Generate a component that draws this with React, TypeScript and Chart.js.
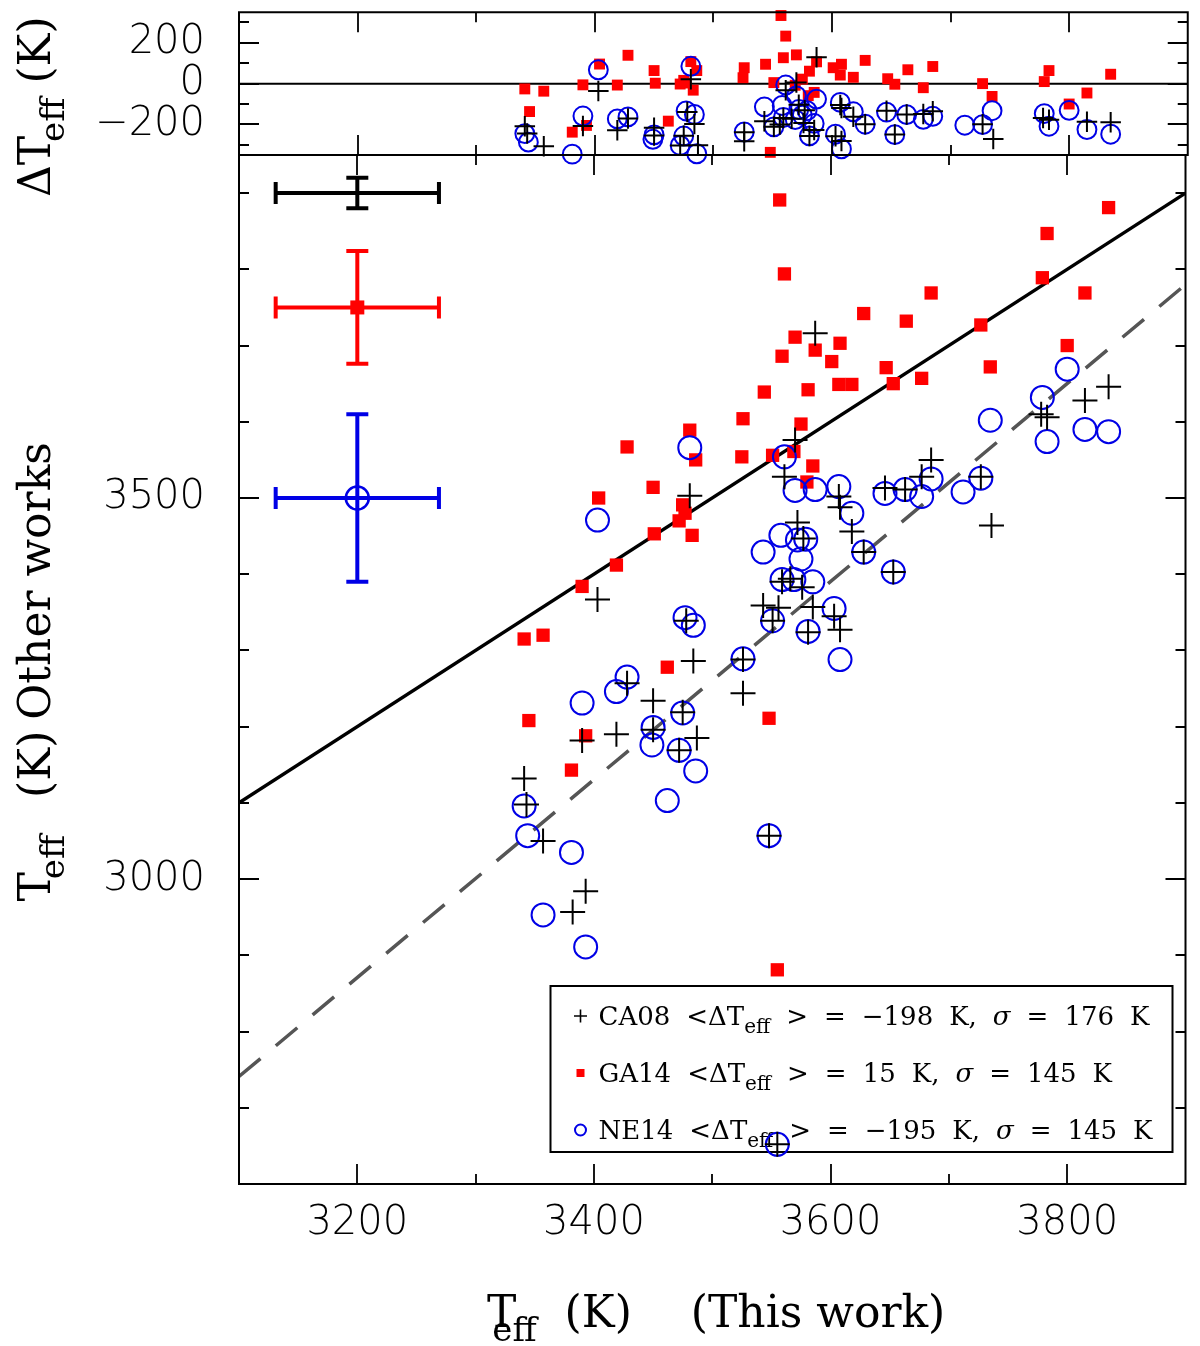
import React, { useEffect, useRef } from "react";
import { Chart, registerables, ChartConfiguration, Plugin } from "chart.js";

Chart.register(...registerables);

const PAGE_W = 1200;
const PAGE_H = 1346;

const X_MIN = 3100;
const X_MAX = 3900;
const MAIN_Y_MIN = 2600;
const MAIN_Y_MAX = 3950;
const TOP_Y_MIN = -350;
const TOP_Y_MAX = 350;

// CA08 : Teff this work / Teff other work
const ca08This = [
  3341, 3343, 3357, 3382, 3390, 3393, 3403, 3419, 3428, 3450, 3450, 3472, 3475, 3478, 3481, 3484, 3487,
  3526, 3526, 3543, 3548, 3551, 3555, 3556, 3559, 3561, 3566, 3570, 3572, 3576, 3577, 3581, 3585, 3587,
  3603, 3607, 3608, 3608, 3618, 3628, 3646, 3653, 3663, 3677, 3685, 3727, 3736, 3778, 3783, 3815, 3835,
];
const ca08Other = [
  3132, 3098, 3050, 2957, 3182, 2984, 3367, 3190, 3257, 3234, 3196, 3169, 3219, 3339, 3503, 3286, 3185,
  3288, 3244, 3359, 3057, 3339, 2652, 3356, 3390, 3528, 3394, 3576, 3468, 3383, 3447, 3324, 3357, 3716,
  3345, 3502, 3488, 3327, 3456, 3429, 3513, 3403, 3511, 3528, 3550, 3528, 3464, 3610, 3606, 3628, 3646,
];

// GA14
const ga14This = [
  3341, 3345, 3357, 3381, 3390, 3393, 3404, 3419, 3428, 3450, 3451, 3462, 3472, 3475, 3477, 3481, 3483,
  3486, 3525, 3526, 3544, 3548, 3551, 3555, 3557, 3559, 3561, 3569, 3570, 3575, 3580, 3581, 3585, 3587,
  3601, 3607, 3608, 3618, 3628, 3647, 3653, 3664, 3677, 3685, 3727, 3735, 3779, 3783, 3800, 3815, 3835,
];
const ga14Other = [
  3315, 3208, 3320, 3143, 3384, 3188, 3500, 3412, 3567, 3514, 3453, 3278, 3470, 3491, 3480, 3589, 3451,
  3550, 3554, 3604, 3639, 3211, 3556, 2881, 3891, 3686, 3794, 3561, 3711, 3597, 3521, 3642, 3542, 3694,
  3679, 3649, 3703, 3649, 3742, 3671, 3650, 3732, 3657, 3769, 3727, 3672, 3789, 3847, 3700, 3769, 3881,
];

// NE14
const ne14This = [
  3341, 3344, 3357, 3381, 3390, 3393, 3403, 3419, 3428, 3449, 3450, 3462, 3472, 3475, 3477, 3481, 3484,
  3486, 3526, 3543, 3548, 3551, 3555, 3558, 3559, 3561, 3569, 3570, 3572, 3575, 3579, 3581, 3585, 3587,
  3603, 3607, 3608, 3618, 3628, 3646, 3653, 3663, 3677, 3685, 3712, 3727, 3735, 3779, 3783, 3800, 3815,
  3835,
];
const ne14Other = [
  3096, 3057, 2953, 3035, 3231, 2911, 3471, 3246, 3265, 3176, 3199, 3103, 3169, 3218, 3343, 3566, 3333,
  3142, 3289, 3429, 3057, 3339, 2652, 3451, 3393, 3554, 3393, 3510, 3445, 3420, 3446, 3325, 3390, 3511,
  3355, 3515, 3288, 3480, 3429, 3506, 3403, 3511, 3502, 3525, 3508, 3526, 3602, 3632, 3574, 3669, 3590,
  3587,
];

// residuals shown in the upper panel
const ca08Delta = ca08Other.map((v, i) => v - ca08This[i]);
const ga14Delta = ga14Other.map((v, i) => v - ga14This[i]);
const ne14Delta = ne14Other.map((v, i) => v - ne14This[i]);

const oneToOneX = [3100, 3900];
const oneToOneY = [3100, 3900];
const fitX = [3100, 3900];
const fitY = [2741, 3780];
const zeroX = [3100, 3900];
const zeroY = [0, 0];

// typical error bars (CA08, GA14, NE14)
const errX = [3200, 3200, 3200];
const errY = [3900, 3750, 3500];
const errHalfX = [69, 69, 69];
const errHalfY = [20, 74, 110];

const legendNames = ["CA08", "GA14", "NE14"];
const legendMean = ["−198", "15", "−195"];
const legendSigma = ["176", "145", "145"];

const xTickLabels = [3200, 3400, 3600, 3800];
const mainYTickLabels = [3000, 3500];
const topYTickLabels = [200, 0, -200];

const BLACK = "#000000";
const RED = "#ff0000";
const BLUE = "#0000e6";
const GREY = "#555555";

const SERIF = '"DejaVu Serif", "Liberation Serif", serif';
const TICK_FONT = '200 40px "DejaVu Sans", "Liberation Sans", sans-serif';
const SUB = 0.78;

type Seg = { t: string; sub?: boolean; italic?: boolean; kern?: number };

function fmt(v: number): string {
  return v < 0 ? "−" + Math.abs(v) : String(v);
}

function fontOf(s: Seg, size: number) {
  return `${s.italic ? "italic " : ""}${s.sub ? Math.round(size * SUB) : size}px ${SERIF}`;
}

function segsWidth(ctx: CanvasRenderingContext2D, segs: Seg[], size: number): number {
  let w = 0;
  segs.forEach((s) => {
    ctx.font = fontOf(s, size);
    w += ctx.measureText(s.t).width + (s.kern || 0);
  });
  return w;
}

function drawSegs(ctx: CanvasRenderingContext2D, segs: Seg[], x: number, y: number, size: number, center: boolean) {
  let cx = center ? x - segsWidth(ctx, segs, size) / 2 : x;
  segs.forEach((s) => {
    cx += s.kern || 0;
    ctx.font = fontOf(s, size);
    ctx.fillText(s.t, cx, s.sub ? y + size * 0.32 : y);
    cx += ctx.measureText(s.t).width;
  });
  return cx;
}

interface FrameOpts {
  yStart: number;
  yEnd: number;
  yMinor: number;
  yMajor: number;
  yLabels: number[];
  xLabels: number[];
}

// frame with inward ticks on the four sides, and tick labels
function framePlugin(o: FrameOpts): Plugin<"scatter"> {
  return {
    id: "frame",
    afterDatasetsDraw(chart) {
      const { ctx, chartArea: a, scales } = chart;
      const sx = scales.x;
      const sy = scales.y;
      ctx.save();
      ctx.strokeStyle = BLACK;
      ctx.lineWidth = 2;
      ctx.strokeRect(a.left, a.top, a.right - a.left, a.bottom - a.top);
      ctx.lineWidth = 1.8;
      ctx.beginPath();
      for (let v = X_MIN + 100; v < X_MAX; v += 100) {
        const px = Math.round(sx.getPixelForValue(v));
        const len = v % 200 === 0 ? 20 : 10;
        ctx.moveTo(px, a.top);
        ctx.lineTo(px, a.top + len);
        ctx.moveTo(px, a.bottom);
        ctx.lineTo(px, a.bottom - len);
      }
      for (let v = o.yStart; v <= o.yEnd; v += o.yMinor) {
        const py = Math.round(sy.getPixelForValue(v));
        const len = v % o.yMajor === 0 ? 20 : 10;
        ctx.moveTo(a.left, py);
        ctx.lineTo(a.left + len, py);
        ctx.moveTo(a.right, py);
        ctx.lineTo(a.right - len, py);
      }
      ctx.stroke();

      ctx.fillStyle = BLACK;
      ctx.font = TICK_FONT;
      ctx.textBaseline = "middle";
      ctx.textAlign = "right";
      o.yLabels.forEach((v) => ctx.fillText(fmt(v), a.left - 34, sy.getPixelForValue(v)));
      ctx.textAlign = "center";
      o.xLabels.forEach((v) => ctx.fillText(fmt(v), sx.getPixelForValue(v), a.bottom + 40));
      ctx.restore();
    },
  };
}

const mainDecor: Plugin<"scatter"> = {
  id: "mainDecor",
  beforeDatasetsDraw(chart) {
    // legend box
    const { ctx, chartArea: a } = chart;
    const left = a.right - 635;
    const top = a.bottom - 198;
    ctx.save();
    ctx.fillStyle = "#ffffff";
    ctx.fillRect(left, top, 622, 166);
    ctx.strokeStyle = BLACK;
    ctx.lineWidth = 2;
    ctx.strokeRect(left, top, 622, 166);
    ctx.textAlign = "left";
    ctx.textBaseline = "alphabetic";
    ctx.fillStyle = BLACK;
    const size = 26;
    const gap = 16;
    legendNames.forEach((name, i) => {
      const base = top + 39 + i * 57;
      const sxc = left + 30;
      const syc = base - 9;
      if (i === 0) {
        ctx.strokeStyle = BLACK;
        ctx.lineWidth = 1.6;
        ctx.beginPath();
        ctx.moveTo(sxc - 6.5, syc);
        ctx.lineTo(sxc + 6.5, syc);
        ctx.moveTo(sxc, syc - 6.5);
        ctx.lineTo(sxc, syc + 6.5);
        ctx.stroke();
      } else if (i === 1) {
        ctx.fillStyle = RED;
        ctx.fillRect(sxc - 4, syc - 4, 8, 8);
      } else {
        ctx.strokeStyle = BLUE;
        ctx.lineWidth = 2;
        ctx.beginPath();
        ctx.arc(sxc, syc, 5.5, 0, Math.PI * 2);
        ctx.stroke();
      }
      ctx.fillStyle = BLACK;
      const groups: Seg[][] = [
        [{ t: name }],
        [{ t: "<ΔT" }, { t: "eff", sub: true }],
        [{ t: ">" }],
        [{ t: "=" }],
        [{ t: legendMean[i] }],
        [{ t: "K," }],
        [{ t: "σ", italic: true }],
        [{ t: "=" }],
        [{ t: legendSigma[i] }],
        [{ t: "K" }],
      ];
      let x = left + 48;
      groups.forEach((g) => {
        x = drawSegs(ctx, g, x, base, size, false) + gap;
      });
    });
    ctx.restore();
  },
  afterDatasetsDraw(chart) {
    const { ctx, scales } = chart;
    const sx = scales.x;
    const sy = scales.y;
    const colors = [BLACK, RED, BLUE];
    ctx.save();
    ctx.lineWidth = 4;
    errX.forEach((xv, i) => {
      const cx = sx.getPixelForValue(xv);
      const cy = sy.getPixelForValue(errY[i]);
      const x0 = sx.getPixelForValue(xv - errHalfX[i]);
      const x1 = sx.getPixelForValue(xv + errHalfX[i]);
      const y0 = sy.getPixelForValue(errY[i] + errHalfY[i]);
      const y1 = sy.getPixelForValue(errY[i] - errHalfY[i]);
      ctx.strokeStyle = colors[i];
      ctx.beginPath();
      ctx.moveTo(x0, cy);
      ctx.lineTo(x1, cy);
      ctx.moveTo(x0, cy - 11);
      ctx.lineTo(x0, cy + 11);
      ctx.moveTo(x1, cy - 11);
      ctx.lineTo(x1, cy + 11);
      ctx.moveTo(cx, y0);
      ctx.lineTo(cx, y1);
      ctx.moveTo(cx - 11, y0);
      ctx.lineTo(cx + 11, y0);
      ctx.moveTo(cx - 11, y1);
      ctx.lineTo(cx + 11, y1);
      ctx.stroke();
      if (i === 1) {
        ctx.fillStyle = RED;
        ctx.fillRect(cx - 7, cy - 7, 14, 14);
      } else if (i === 2) {
        ctx.lineWidth = 2.5;
        ctx.beginPath();
        ctx.arc(cx, cy, 11.5, 0, Math.PI * 2);
        ctx.stroke();
        ctx.lineWidth = 4;
      }
    });
    ctx.restore();
  },
  afterDraw(chart) {
    const { ctx, chartArea: a } = chart;
    ctx.save();
    ctx.fillStyle = BLACK;
    ctx.textAlign = "left";
    ctx.textBaseline = "alphabetic";
    drawSegs(
      ctx,
      [
        { t: "T" },
        { t: "eff", sub: true, kern: -24 },
        { t: " (K)", kern: 14 },
        { t: "  (This work)", kern: 31 },
      ],
      a.left + 248,
      a.bottom + 143,
      44,
      false
    );
    ctx.translate(50, (a.top + a.bottom) / 2);
    ctx.rotate(-Math.PI / 2);
    drawSegs(
      ctx,
      [{ t: "T" }, { t: "eff", sub: true, kern: -7 }, { t: " (K)", kern: 23 }, { t: " Other works", kern: -3 }],
      -232,
      0,
      44,
      false
    );
    ctx.restore();
  },
};

const topDecor: Plugin<"scatter"> = {
  id: "topDecor",
  afterDraw(chart) {
    const { ctx } = chart;
    ctx.save();
    ctx.fillStyle = BLACK;
    ctx.textAlign = "left";
    ctx.textBaseline = "alphabetic";
    ctx.translate(50, 105);
    ctx.rotate(-Math.PI / 2);
    drawSegs(ctx, [{ t: "ΔT" }, { t: "eff", sub: true, kern: -6 }, { t: " (K)", kern: 0 }], -92, 0, 44, false);
    ctx.restore();
  },
};

function pts(xs: number[], ys: number[], lo = -Infinity, hi = Infinity) {
  return xs.map((x, i) => ({ x, y: ys[i] })).filter((p) => p.y >= lo && p.y <= hi);
}

type P = { x: number; y: number };

function markerSets(cross: P[], circ: P[], sq: P[], k: number) {
  return [
    {
      label: "CA08",
      data: cross,
      pointStyle: "cross" as const,
      pointRadius: 12.5 * k,
      pointBorderColor: BLACK,
      pointBorderWidth: 2,
      showLine: false,
      clip: false,
    },
    {
      label: "NE14",
      data: circ,
      pointStyle: "circle" as const,
      pointRadius: 11.5 * k,
      pointBorderColor: BLUE,
      pointBackgroundColor: "rgba(0,0,0,0)",
      pointBorderWidth: 2,
      showLine: false,
      clip: false,
    },
    {
      label: "GA14",
      data: sq,
      pointStyle: "rect" as const,
      pointRadius: 9.4 * k,
      pointBorderColor: RED,
      pointBackgroundColor: RED,
      pointBorderWidth: 0,
      showLine: false,
      clip: false,
    },
  ];
}

function baseOptions(yMin: number, yMax: number, pad: { top: number; bottom: number }) {
  return {
    responsive: false,
    animation: false as const,
    devicePixelRatio: 1,
    events: [] as any[],
    layout: { padding: { left: 239, right: PAGE_W - 1192, top: pad.top, bottom: pad.bottom } },
    plugins: { legend: { display: false }, tooltip: { enabled: false }, title: { display: false } },
    scales: {
      x: { type: "linear" as const, min: X_MIN, max: X_MAX, display: false },
      y: { type: "linear" as const, min: yMin, max: yMax, display: false },
    },
  };
}

const App: React.FC = () => {
  const topRef = useRef<HTMLCanvasElement | null>(null);
  const mainRef = useRef<HTMLCanvasElement | null>(null);

  useEffect(() => {
    if (!topRef.current || !mainRef.current) return;

    const topConfig: ChartConfiguration<"scatter"> = {
      type: "scatter",
      data: {
        datasets: [
          ...markerSets(
            pts(ca08This, ca08Delta, TOP_Y_MIN, TOP_Y_MAX),
            pts(ne14This, ne14Delta, TOP_Y_MIN, TOP_Y_MAX),
            pts(ga14This, ga14Delta, TOP_Y_MIN, TOP_Y_MAX),
            0.82
          ),
          {
            label: "zero",
            data: pts(zeroX, zeroY),
            showLine: true,
            pointRadius: 0,
            borderColor: BLACK,
            borderWidth: 2,
          },
        ] as any,
      },
      options: baseOptions(TOP_Y_MIN, TOP_Y_MAX, { top: 9, bottom: PAGE_H - 155 }) as any,
      plugins: [
        framePlugin({ yStart: -300, yEnd: 300, yMinor: 100, yMajor: 200, yLabels: topYTickLabels, xLabels: [] }),
        topDecor,
      ],
    };

    const mainConfig: ChartConfiguration<"scatter"> = {
      type: "scatter",
      data: {
        datasets: [
          ...markerSets(
            pts(ca08This, ca08Other, MAIN_Y_MIN, MAIN_Y_MAX),
            pts(ne14This, ne14Other, MAIN_Y_MIN, MAIN_Y_MAX),
            pts(ga14This, ga14Other, MAIN_Y_MIN, MAIN_Y_MAX),
            1
          ),
          {
            label: "one-to-one",
            data: pts(oneToOneX, oneToOneY),
            showLine: true,
            pointRadius: 0,
            borderColor: BLACK,
            borderWidth: 3.5,
          },
          {
            label: "fit",
            data: pts(fitX, fitY),
            showLine: true,
            pointRadius: 0,
            borderColor: GREY,
            borderWidth: 3.5,
            borderDash: [28, 20],
          },
        ] as any,
      },
      options: baseOptions(MAIN_Y_MIN, MAIN_Y_MAX, { top: 155, bottom: PAGE_H - 1184 }) as any,
      plugins: [
        mainDecor,
        framePlugin({ yStart: 2700, yEnd: 3900, yMinor: 100, yMajor: 500, yLabels: mainYTickLabels, xLabels: xTickLabels }),
      ],
    };

    const topChart = new Chart(topRef.current, topConfig);
    const mainChart = new Chart(mainRef.current, mainConfig);

    return () => {
      topChart.destroy();
      mainChart.destroy();
    };
  }, []);

  const canvasStyle: React.CSSProperties = { position: "absolute", left: 0, top: 0, width: PAGE_W, height: PAGE_H };

  return (
    <div style={{ position: "absolute", left: 0, top: 0, width: PAGE_W, height: PAGE_H, background: "#ffffff" }}>
      <canvas ref={topRef} width={PAGE_W} height={PAGE_H} style={canvasStyle} />
      <canvas ref={mainRef} width={PAGE_W} height={PAGE_H} style={canvasStyle} />
    </div>
  );
};

export default App;
